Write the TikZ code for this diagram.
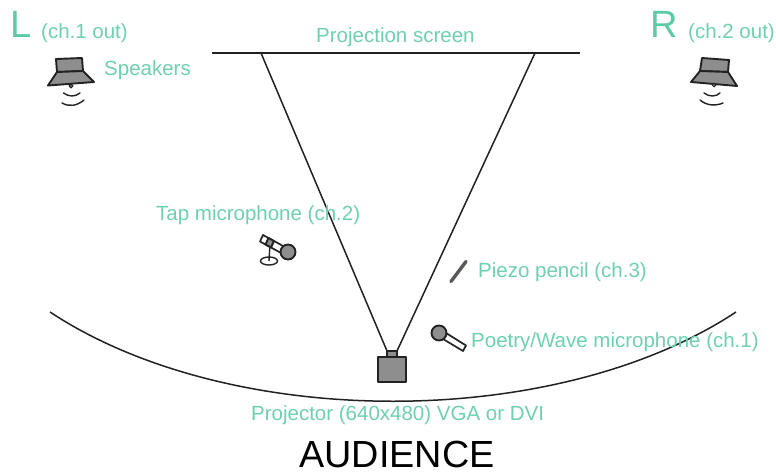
\documentclass[tikz,border=0pt]{standalone}
\usepackage{fontspec}
\setmainfont{Liberation Sans}
\definecolor{lbl}{HTML}{5CCBA4}
\definecolor{lblsoft}{HTML}{6FD0B0}
\definecolor{bodyg}{HTML}{8E8E8E}
\definecolor{ink}{HTML}{222222}
\tikzset{
  lab/.style={inner sep=0pt,anchor=base west,text=lblsoft,font=\fontsize{20.5}{20.5}\selectfont},
  biglab/.style={inner sep=0pt,anchor=base west,text=lbl,font=\fontsize{38}{38}\selectfont},
  aud/.style={inner sep=0pt,anchor=base,text=black,font=\fontsize{37.8}{37.8}\selectfont},
  wire/.style={draw=ink,line width=1.5pt},
  part/.style={draw=ink,line width=1.9pt,fill=bodyg,line join=round},
  pale/.style={draw=ink,line width=1.7pt,fill=white,line join=round},
  wave/.style={draw=ink,line width=1.4pt,line cap=round}
}
\begin{document}
\begin{tikzpicture}[x=1pt,y=-1pt]
\useasboundingbox[fill=white] (0,0) rectangle (776,474);
% screen and projector
\coordinate (scrL) at (212,53);
\coordinate (scrR) at (580,53);
\coordinate (beamL) at (261,53);
\coordinate (beamR) at (535,53);
\draw[wire] (scrL) -- (scrR);
\node[lab] (screenlab) at (316,42) {Projection screen};
\path[part] (387,351) rectangle (397,358);
\path[part] (378,357) rectangle (406,382);
\coordinate (lensL) at (387,351);
\coordinate (lensR) at (397,351);
\draw[wire] (lensL) -- (beamL);
\draw[wire] (lensR) -- (beamR);
\node[lab] (projlab) at (251,420) {Projector (640x480) VGA or DVI};
% audience arc
\coordinate (arcL) at (50,312);
\coordinate (arcR) at (736,312);
\draw[wire] (arcL) .. controls (230,431) and (556,431) .. (arcR);
\node[aud] (audlab) at (397,467) {AUDIENCE};
% left speaker
\node[biglab] (L) at (10,37) {L};
\node[lab] (Lch) at (41,38) {(ch.1 out)};
\node[lab] (spk) at (104,75) {Speakers};
\path[part] (56,59) -- (82,58) -- (83,71) -- (57,72) -- cycle;
\path[part] (57,72) -- (83,71) -- (94,82) -- (48,85.5) -- cycle;
\fill[bodyg,draw=ink,line width=1pt] (71,86) circle (1.8);
\draw[wave] (63.5,93) .. controls (69,97) and (75,97) .. (80,93);
\draw[wave] (62,103) .. controls (69,107) and (77,106) .. (84,100);
% right speaker
\node[biglab] (R) at (650,37) {R};
\node[lab] (Rch) at (688,38) {(ch.2 out)};
\path[part] (702,58) -- (729,60) -- (728,72) -- (700,71) -- cycle;
\path[part] (700,71) -- (728,72) -- (737,86) -- (691,82) -- cycle;
\fill[bodyg,draw=ink,line width=1pt] (714,85) circle (1.8);
\draw[wave] (704,93) .. controls (709,97) and (716,97) .. (720,93);
\draw[wave] (700,100) .. controls (707,106) and (716,106) .. (723,103);
% tap microphone
\node[lab] (taplab) at (156,220) {Tap microphone (ch.2)};
\draw[draw=ink,line width=1.4pt] (269,261) ellipse (8.5 and 4);
\draw[draw=ink,line width=1.4pt] (270,244) -- (269,261);
\path[pale] (263,235) -- (285,247) -- (282,253.5) -- (260,241.5) -- cycle;
\path[part] (268.5,238) -- (274,241) -- (271,247.5) -- (265.5,244.5) -- cycle;
\path[part] (288,252) circle (7.5);
% piezo pencil
\draw[draw=ink!75,line width=3.4pt,line cap=round] (466,261.5) -- (451,281.5);
\node[lab] (piezolab) at (478,277) {Piezo pencil (ch.3)};
% poetry microphone
\path[pale] (446,333) -- (466,345.5) -- (463,351) -- (443,339) -- cycle;
\path[part] (439,333) circle (7.5);
\node[lab] (poetlab) at (471,347) {Poetry/Wave microphone (ch.1)};
\end{tikzpicture}
\end{document}
